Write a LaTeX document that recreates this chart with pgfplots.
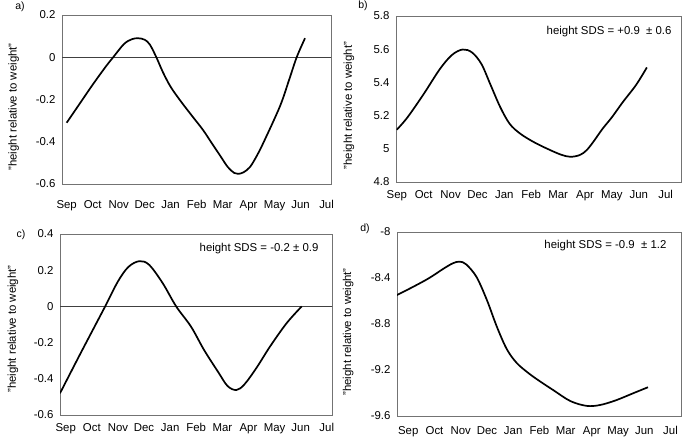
\documentclass[border=0pt]{standalone}
\usepackage{fontspec}
\setmainfont{Liberation Sans}
\usepackage{pgfplots}
\pgfplotsset{compat=1.18}
\newcommand{\fs}{\fontsize{11.4}{13}\selectfont}
\pgfplotsset{
 panel/.style={
  scale only axis, anchor=south west,
  xtick={0,...,10},
  xticklabels={Sep,Oct,Nov,Dec,Jan,Feb,Mar,Apr,May,Jun,Jul},
  major tick length=0pt,
  tick style={draw=none},
  axis line style={draw=black!55, line width=0.7pt},
  ticklabel style={font=\fs},
  yticklabel style={xshift=-3pt},
  xticklabel style={yshift=-5pt},
  ylabel style={font=\fs},
  ylabel={"height relative to weight"},
 },
 curve/.style={line width=1.7pt, black, smooth, tension=0.55, no marks},
 zeroline/.style={line width=0.7pt, black!75, sharp plot, no marks},
}
\begin{document}
\begin{tikzpicture}
\useasboundingbox (0,0) rectangle (685pt,443pt);
% panel a
\begin{axis}[panel, at={(62pt,259pt)}, width=269pt, height=169pt,
  xmin=-0.18, xmax=10.17, ymin=-0.6, ymax=0.2,
  ytick={-0.6,-0.4,-0.2,0,0.2}, yticklabels={-0.6,-0.4,-0.2,0,0.2},
  ylabel style={at={(axis description cs:-0.18,0.456)}, anchor=center},
  xticklabel style={yshift=-8pt}]
\addplot[zeroline] coordinates {(-1,0) (11,0)};
\addplot[curve] coordinates {
(0,-0.31) (0.5,-0.22) (1.0,-0.13) (1.5,-0.045) (1.79,0.0) (2.2,0.062)
(2.5,0.085) (2.75,0.09) (3.0,0.083) (3.2,0.06) (3.45,0.0) (3.7,-0.07)
(4.0,-0.14) (4.4,-0.21) (4.87,-0.285) (5.25,-0.345) (5.6,-0.41) (5.9,-0.465)
(6.2,-0.52) (6.45,-0.548) (6.6,-0.552) (6.8,-0.545) (7.05,-0.52) (7.3,-0.47)
(7.56,-0.407) (8.2,-0.234) (8.55,-0.11) (8.85,0.0) (9.17,0.09)};
\end{axis}
% panel b
\begin{axis}[panel, at={(396pt,261pt)}, width=285pt, height=166pt,
  xmin=-0.03, xmax=10.57, ymin=4.8, ymax=5.8,
  ytick={4.8,5,5.2,5.4,5.6,5.8}, yticklabels={4.8,5,5.2,5.4,5.6,5.8},
  ylabel style={at={(axis description cs:-0.165,0.46)}, anchor=center}]
\addplot[curve] coordinates {
(0,5.115) (0.4,5.19) (1.0,5.33) (1.6,5.48) (2.05,5.565) (2.45,5.598)
(2.8,5.58) (3.15,5.51) (3.5,5.38) (3.85,5.25) (4.2,5.15) (4.6,5.09)
(5.1,5.04) (5.6,5.0) (6.1,4.965) (6.45,4.952) (6.8,4.962) (7.05,4.99)
(7.3,5.04) (7.65,5.12) (8.0,5.19) (8.4,5.28) (8.9,5.385) (9.3,5.49)};
\node[anchor=east, font=\fs] at (rel axis cs:0.979,0.904) {height SDS = +0.9\ \ ± 0.6};
\end{axis}
% panel c
\begin{axis}[panel, at={(60pt,28pt)}, width=272pt, height=181pt,
  xmin=-0.22, xmax=10.2, ymin=-0.6, ymax=0.4,
  ytick={-0.6,-0.4,-0.2,0,0.2,0.4}, yticklabels={-0.6,-0.4,-0.2,0,0.2,0.4},
  ylabel style={at={(axis description cs:-0.173,0.475)}, anchor=center}]
\addplot[zeroline] coordinates {(-1,0) (11,0)};
\addplot[curve] coordinates {
(-0.22,-0.48) (0.5,-0.278) (1.03,-0.132) (1.51,0.0) (2.0,0.138) (2.4,0.218)
(2.82,0.25) (3.2,0.229) (3.72,0.127) (4.23,0.0) (4.8,-0.112) (5.3,-0.241)
(5.85,-0.365) (6.2,-0.44) (6.54,-0.462) (6.85,-0.43) (7.31,-0.339)
(7.82,-0.223) (8.46,-0.093) (9.04,0.0)};
\node[anchor=east, font=\fs] at (rel axis cs:0.963,0.917) {height SDS = -0.2 ± 0.9};
\end{axis}
% panel d
\begin{axis}[panel, at={(397pt,27pt)}, width=284pt, height=184pt,
  xmin=-0.43, xmax=10.4, ymin=-9.6, ymax=-8,
  ytick={-9.6,-9.2,-8.8,-8.4,-8}, yticklabels={-9.6,-9.2,-8.8,-8.4,-8},
  ylabel style={at={(axis description cs:-0.172,0.457)}, anchor=center},
  xticklabel style={yshift=-2pt}]
\addplot[curve] coordinates {
(-0.45,-8.55) (0.2,-8.475) (0.8,-8.40) (1.35,-8.318) (1.7,-8.272) (1.95,-8.258)
(2.2,-8.28) (2.6,-8.39) (3.0,-8.593) (3.38,-8.825) (3.76,-9.02) (4.14,-9.14)
(4.6,-9.23) (5.03,-9.30) (5.53,-9.375) (6.18,-9.47) (6.8,-9.512) (7.3,-9.505)
(7.9,-9.465) (8.6,-9.40) (9.14,-9.35)};
\node[anchor=east, font=\fs] at (rel axis cs:0.961,0.929) {height SDS = -0.9\ \ ± 1.2};
\end{axis}
\node[font=\fontsize{10.5}{12}\selectfont] at (20pt,436pt) {a)};
\node[font=\fontsize{10.5}{12}\selectfont] at (363pt,437pt) {b)};
\node[font=\fontsize{10.5}{12}\selectfont] at (21pt,208pt) {c)};
\node[font=\fontsize{10.5}{12}\selectfont] at (365pt,214pt) {d)};
\end{tikzpicture}
\end{document}
